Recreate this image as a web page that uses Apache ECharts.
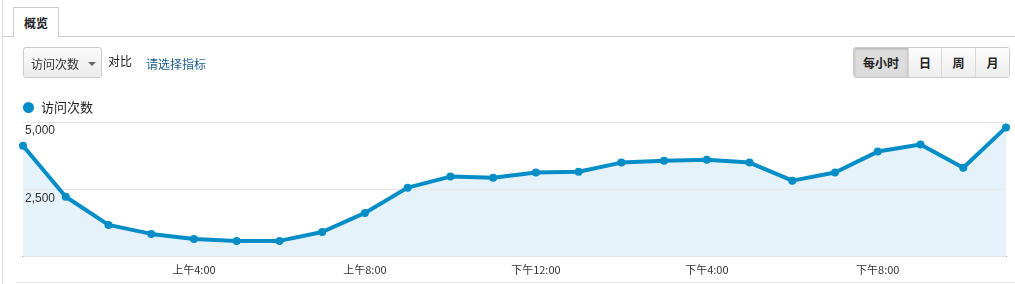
<!DOCTYPE html>
<html>
<head>
<meta charset="utf-8">
<script src="https://cdn.jsdelivr.net/npm/echarts@6/dist/echarts.min.js"></script>
<style>
  html,body{margin:0;padding:0;background:#fff;}
  body{width:1015px;height:284px;position:relative;overflow:hidden;font-family:"Noto Sans CJK SC","Noto Sans",sans-serif;color:#222;}
  #chart{position:absolute;left:0;top:0;width:1015px;height:284px;}
  .abs{position:absolute;}
  #leftline{left:2px;top:0;width:1px;height:284px;background:#ddd;}
  #bottomline{left:16px;top:282px;width:1000px;height:1px;background:#e6e6e6;}
  #tabline{left:2px;top:36px;width:1013px;height:1px;background:#ccc;}
  #tab{left:13px;top:7px;width:44px;height:29px;border:1px solid #ccc;border-bottom:1px solid #fff;background:#fff;font-size:12px;font-weight:bold;line-height:29px;text-align:center;}
  #dd{left:23px;top:47px;width:79px;height:31px;border:1px solid #ccc;border-radius:3px;background:linear-gradient(#fafafa,#ececec);font-size:12px;line-height:31px;box-sizing:border-box;padding-left:7px;color:#333;}
  #dd .car{position:absolute;left:64px;top:14px;width:0;height:0;border-left:4px solid transparent;border-right:4px solid transparent;border-top:4px solid #666;}
  #dbi{left:108px;top:52px;font-size:12px;color:#222;}
  #sel{left:146px;top:55px;font-size:12px;color:#1d5f8f;}
  #btns{left:853px;top:47px;height:31px;display:flex;border:1px solid #ccc;border-radius:3px;overflow:hidden;box-sizing:border-box;}
  #btns div{height:100%;line-height:29px;text-align:center;font-size:12px;font-weight:bold;background:linear-gradient(#fcfcfc,#eeeeee);border-left:1px solid #d6d6d6;color:#222;}
  #btns div:first-child{border-left:none;background:#dcdcdc;box-shadow:inset 0 1px 3px rgba(0,0,0,0.2);}
</style>
</head>
<body>
<div id="chart"></div>
<div class="abs" id="leftline"></div>
<div class="abs" id="bottomline"></div>
<div class="abs" id="tabline"></div>
<div class="abs" id="tab">概览</div>
<div class="abs" id="dd">访问次数<span class="car"></span></div>
<div class="abs" id="dbi">对比</div>
<div class="abs" id="sel">请选择指标</div>
<div class="abs" id="btns"><div style="width:54px">每小时</div><div style="width:32px">日</div><div style="width:33px">周</div><div style="width:33px">月</div></div>
<script>
const seriesName = '访问次数';
const hours = ['上午12:00','上午1:00','上午2:00','上午3:00','上午4:00','上午5:00','上午6:00','上午7:00','上午8:00','上午9:00','上午10:00','上午11:00','下午12:00','下午1:00','下午2:00','下午3:00','下午4:00','下午5:00','下午6:00','下午7:00','下午8:00','下午9:00','下午10:00','下午11:00'];
const visits = [4120,2220,1175,840,650,580,580,910,1620,2560,2970,2930,3120,3150,3490,3560,3600,3490,2820,3120,3900,4160,3300,4800];
const shownTicks = ['上午4:00','上午8:00','下午12:00','下午4:00','下午8:00'];

const chart = echarts.init(document.getElementById('chart'));
chart.setOption({
  animation:false,
  legend:{
    left:18, top:96, icon:'circle', itemWidth:11, itemHeight:11, itemGap:10,
    textStyle:{fontSize:13, color:'#222', fontFamily:'Noto Sans CJK SC', padding:[0,0,0,2]},
    data:[seriesName]
  },
  grid:{left:23, right:9, top:122, bottom:27.5, containLabel:false},
  xAxis:{
    type:'category', data:hours, boundaryGap:false,
    axisLine:{lineStyle:{color:'#333', width:1}},
    axisTick:{show:false},
    axisLabel:{
      interval:0, color:'#333', fontSize:11, margin:8, fontFamily:'Noto Sans CJK SC',
      formatter:v=> shownTicks.includes(v) ? v : ''
    },
    splitLine:{show:false}
  },
  yAxis:{
    type:'value', min:0, max:5000, interval:2500, z:5,
    axisLine:{show:false}, axisTick:{show:false},
    axisLabel:{inside:true, margin:2, verticalAlign:'top', padding:[3,0,0,0], color:'#333', fontSize:12,
      showMinLabel:false, formatter:v=> v===0 ? '' : v.toLocaleString('en-US')},
    splitLine:{lineStyle:{color:'#e6e6e6'}}
  },
  series:[{
    name:'fill', type:'line', data:visits, z:1,
    lineStyle:{width:0, opacity:0}, symbol:'none', silent:true,
    areaStyle:{color:'#e6f2f9', opacity:1}
  },{
    name:seriesName, type:'line', data:visits, z:10,
    color:'#058dc7',
    lineStyle:{width:4, color:'#058dc7'},
    symbol:'circle', symbolSize:8,
    itemStyle:{color:'#058dc7'}
  }]
});
</script>
</body>
</html>
